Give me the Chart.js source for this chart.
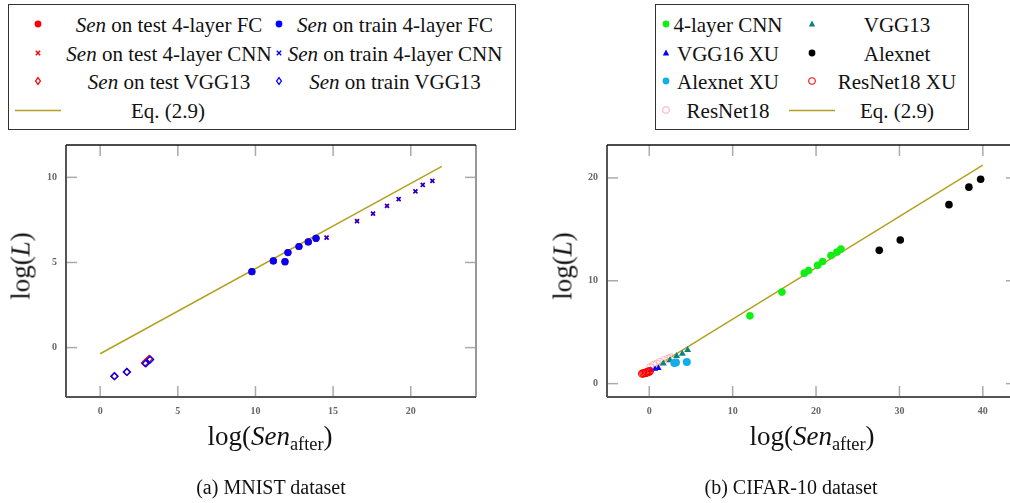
<!DOCTYPE html>
<html>
<head>
<meta charset="utf-8">
<script src="https://cdn.jsdelivr.net/npm/chart.js@4.4.0/dist/chart.umd.min.js"></script>
<style>
  html, body { margin: 0; padding: 0; background: #fff; }
  body { width: 1010px; height: 503px; overflow: hidden; position: relative; font-family: 'Liberation Serif', serif; color: #111; }
  .box { position: absolute; border: 1.5px solid #333; box-sizing: border-box; }
  .t { position: absolute; white-space: nowrap; transform: translate(-50%, -50%); font-size: 21px; line-height: 1; }
  .m { position: absolute; transform: translate(-50%, -50%); }
  .ttl { font-size: 27px; }
  .cap { font-size: 20px; }
  .sub { font-size: 0.68em; vertical-align: -0.28em; }
  canvas { position: absolute; }
</style>
</head>
<body>
<div class="box" style="left:8px;top:4px;width:508px;height:126px"></div>
<div class="box" style="left:655px;top:4px;width:314px;height:126px"></div>
<div id="legend"></div>

<canvas id="mnist" width="540" height="300" style="left:0;top:130px"></canvas>
<canvas id="cifar" width="480" height="300" style="left:560px;top:130px"></canvas>

<div class="t ttl" style="left:21px;top:266px;transform:translate(-50%,-50%) rotate(-90deg)">log(<i>L</i>)</div>
<div class="t ttl" style="left:270px;top:438px">log(<i>Sen</i><span class="sub">after</span>)</div>
<div class="t cap" style="left:271px;top:487px">(a) MNIST dataset</div>
<div class="t ttl" style="left:563px;top:266px;transform:translate(-50%,-50%) rotate(-90deg)">log(<i>L</i>)</div>
<div class="t ttl" style="left:812px;top:438px">log(<i>Sen</i><span class="sub">after</span>)</div>
<div class="t cap" style="left:791px;top:487px">(b) CIFAR-10 dataset</div>

<script>
// MNIST (a)
const mnistXTicks = [0, 5, 10, 15, 20]
const mnistYTicks = [0, 5, 10]
const fcTest = [[9.77, 4.46], [11.15, 5.09], [11.9, 5.05], [12.09, 5.58], [12.8, 5.94], [13.4, 6.21], [13.9, 6.42]]
const fcTrain = [[9.77, 4.46], [11.15, 5.09], [11.9, 5.05], [12.09, 5.58], [12.8, 5.94], [13.4, 6.21], [13.9, 6.42]]
const cnnTest = [[14.58, 6.46], [16.54, 7.43], [17.57, 7.87], [18.47, 8.32], [19.22, 8.72], [20.3, 9.18], [20.77, 9.56], [21.39, 9.79]]
const cnnTrain = [[14.58, 6.46], [16.54, 7.43], [17.57, 7.87], [18.47, 8.32], [19.22, 8.72], [20.3, 9.18], [20.77, 9.56], [21.39, 9.79]]
const vggTest = [[0.92, -1.68], [1.72, -1.43], [2.88, -0.9], [3.16, -0.66]]
const vggTrain = [[0.92, -1.68], [1.72, -1.43], [2.94, -0.93], [3.22, -0.7]]
const mnistEq = [[0, -0.36], [22, 10.64]]

// CIFAR-10 (b)
const cifarXTicks = [0, 10, 20, 30, 40]
const cifarYTicks = [0, 10, 20]
const cnn4 = [[12.07, 6.59], [15.91, 8.9], [18.59, 10.74], [19.1, 10.99], [20.19, 11.5], [20.79, 11.88], [21.79, 12.45], [22.5, 12.8], [22.99, 13.08]]
const vgg13 = [[1.68, 1.96], [2.48, 2.28], [3.28, 2.69], [3.96, 2.9], [4.6, 3.26]]
const vgg16xu = [[0.2, 1.3], [0.7, 1.42], [1.1, 1.5]]
const alexnet = [[27.58, 12.96], [30.1, 13.97], [35.94, 17.4], [38.33, 19.1], [39.74, 19.87]]
const alexnetXu = [[3.0, 2.0], [3.2, 2.05], [4.5, 2.1]]
const resnetXu = [[-0.85, 0.97], [-0.7, 1.0], [-0.55, 1.02], [-0.4, 1.06], [-0.25, 1.1], [-0.1, 1.15], [0.05, 1.2]]
const resnet = [[0.1, 1.6], [0.5, 1.82], [0.9, 1.95], [1.3, 2.12], [1.8, 2.3], [2.3, 2.45], [2.6, 2.55]]
const cifarEq = [[-0.9, 0.82], [40, 21.25]]

const olive = '#b4a01e'
const pts = arr => arr.map(p => ({x: p[0], y: p[1]}))

// inward ticks and the box round the plot
const frame = {
  id: 'frame',
  afterDraw(chart) {
    const {ctx, chartArea: a, scales: {x, y}} = chart
    const line = (x1, y1, x2, y2) => { ctx.beginPath(); ctx.moveTo(x1, y1); ctx.lineTo(x2, y2); ctx.stroke() }
    ctx.save()
    ctx.strokeStyle = '#aaa'
    ctx.lineWidth = 1.5
    x.ticks.forEach(t => {
      const px = x.getPixelForValue(t.value)
      line(px, a.bottom, px, a.bottom - 11)
      line(px, a.top, px, a.top + 11)
    })
    y.ticks.forEach(t => {
      const py = y.getPixelForValue(t.value)
      line(a.left, py, a.left + 11, py)
      line(a.right, py, a.right - 11, py)
    })
    ctx.lineWidth = 2
    ctx.strokeStyle = '#999'
    line(a.right, a.top, a.right, a.bottom)
    ctx.strokeStyle = '#555'
    line(a.left, a.bottom, a.right, a.bottom)
    line(a.left, a.top, a.left, a.bottom)
    ctx.strokeStyle = '#111'
    ctx.lineWidth = 1.5
    line(a.left, a.top, a.right, a.top)
    ctx.restore()
  }
}

const tickFont = {family: 'Liberation Serif', size: 10, weight: 'bold'}

function makeScales(xr, yr, xTicks, yTicks, yw, xh) {
  return {
    x: {
      type: 'linear', min: xr[0], max: xr[1],
      grid: {display: false, drawTicks: false}, border: {display: false},
      afterBuildTicks: s => { s.ticks = xTicks.map(v => ({value: v})) },
      afterFit: s => { s.height = xh },
      ticks: {font: tickFont, color: '#666', padding: 8, maxRotation: 0}
    },
    y: {
      type: 'linear', min: yr[0], max: yr[1],
      grid: {display: false, drawTicks: false}, border: {display: false},
      afterBuildTicks: s => { s.ticks = yTicks.map(v => ({value: v})) },
      afterFit: s => { s.width = yw },
      ticks: {font: tickFont, color: '#666', padding: 9}
    }
  }
}

const common = {
  responsive: false,
  animation: false,
  events: [],
  plugins: {legend: {display: false}, tooltip: {enabled: false}}
}

new Chart(document.getElementById('mnist'), {
  type: 'scatter',
  data: {
    datasets: [
      {label: 'Eq. (2.9)', type: 'line', data: pts(mnistEq), borderColor: olive, borderWidth: 1.5, pointRadius: 0, order: 10},
      {label: 'Sen on test 4-layer FC', data: pts(fcTest), pointStyle: 'circle', radius: 3.6, backgroundColor: '#f00', borderWidth: 0, order: 5},
      {label: 'Sen on train 4-layer FC', data: pts(fcTrain), pointStyle: 'circle', radius: 3.6, backgroundColor: '#00f', borderWidth: 0, order: 1},
      {label: 'Sen on test 4-layer CNN', data: pts(cnnTest), pointStyle: 'crossRot', radius: 2.8, borderColor: '#f00', borderWidth: 1.6, order: 5},
      {label: 'Sen on train 4-layer CNN', data: pts(cnnTrain), pointStyle: 'crossRot', radius: 2.6, borderColor: '#00f', borderWidth: 1.4, order: 1},
      {label: 'Sen on test VGG13', data: pts(vggTest), pointStyle: 'rectRot', radius: 3.4, backgroundColor: '#fff', borderColor: '#f00', borderWidth: 1.4, order: 5},
      {label: 'Sen on train VGG13', data: pts(vggTrain), pointStyle: 'rectRot', radius: 3.4, backgroundColor: 'rgba(255,255,255,0)', borderColor: '#00f', borderWidth: 1.4, order: 1}
    ]
  },
  options: Object.assign({}, common, {
    layout: {padding: {left: 0, top: 8, right: 64, bottom: 0}},
    scales: makeScales([-2.2, 24.2], [-2.9, 11.9], mnistXTicks, mnistYTicks, 66, 33)
  }),
  plugins: [frame]
})

new Chart(document.getElementById('cifar'), {
  type: 'scatter',
  data: {
    datasets: [
      {label: 'Eq. (2.9)', type: 'line', data: pts(cifarEq), borderColor: olive, borderWidth: 1.5, pointRadius: 0, order: 10},
      {label: 'ResNet18', data: pts(resnet), pointStyle: 'circle', radius: 3.6, backgroundColor: 'rgba(255,255,255,0)', borderColor: '#ffb0b8', borderWidth: 1, order: 8},
      {label: 'VGG13', data: pts(vgg13), pointStyle: 'triangle', radius: 4, backgroundColor: '#0f8080', borderWidth: 0, order: 6},
      {label: 'Alexnet XU', data: pts(alexnetXu), pointStyle: 'circle', radius: 4, backgroundColor: '#12aee8', borderWidth: 0, order: 5},
      {label: 'VGG16 XU', data: pts(vgg16xu), pointStyle: 'triangle', radius: 3.6, backgroundColor: '#00f', borderWidth: 0, order: 4},
      {label: 'ResNet18 XU', data: pts(resnetXu), pointStyle: 'circle', radius: 3.6, backgroundColor: 'rgba(255,255,255,0)', borderColor: '#f00', borderWidth: 1.2, order: 3},
      {label: '4-layer CNN', data: pts(cnn4), pointStyle: 'circle', radius: 3.8, backgroundColor: '#11ee11', borderWidth: 0, order: 2},
      {label: 'Alexnet', data: pts(alexnet), pointStyle: 'circle', radius: 3.8, backgroundColor: '#000', borderWidth: 0, order: 2}
    ]
  },
  options: Object.assign({}, common, {
    layout: {padding: {left: 0, top: 9, right: 23, bottom: 0}},
    scales: makeScales([-5.07, 44.1], [-1.3, 23.2], cifarXTicks, cifarYTicks, 47, 33)
  }),
  plugins: [frame]
})

// legends
const svg = inner => '<svg width="14" height="14" viewBox="-7 -7 14 14">' + inner + '</svg>'
const marks = {
  dot: c => svg('<circle r="3.4" fill="' + c + '"/>'),
  cross: c => svg('<path d="M-2.2,-2.2L2.2,2.2M-2.2,2.2L2.2,-2.2" stroke="' + c + '" stroke-width="1.4"/>'),
  diamond: c => svg('<path d="M0,-3.4L2.4,0L0,3.4L-2.4,0Z" fill="#fff" stroke="' + c + '" stroke-width="1.3"/>'),
  tri: c => svg('<path d="M0,-3.4L3.2,2.4L-3.2,2.4Z" fill="' + c + '"/>'),
  ring: c => svg('<circle r="3.3" fill="none" stroke="' + c + '" stroke-width="1.1"/>'),
  line: c => '<svg width="46" height="4"><line x1="0" y1="2" x2="46" y2="2" stroke="' + c + '" stroke-width="1.6"/></svg>'
}
const sen = '<i>Sen</i> '
const rowsY = [24, 52.5, 81, 109.5]
const legendItems = [
  // [marker, colour, markX, row, text, textX]
  ['dot', '#f00', 38, 0, sen + 'on test 4-layer FC', 169],
  ['dot', '#00f', 279, 0, sen + 'on train 4-layer FC', 395],
  ['cross', '#f00', 38, 1, sen + 'on test 4-layer CNN', 169],
  ['cross', '#00f', 279, 1, sen + 'on train 4-layer CNN', 395],
  ['diamond', '#f00', 38, 2, sen + 'on test VGG13', 169],
  ['diamond', '#00f', 279, 2, sen + 'on train VGG13', 395],
  ['line', olive, 38, 3, 'Eq. (2.9)', 168],
  ['dot', '#11ee11', 666, 0, '4-layer CNN', 728],
  ['tri', '#0f8080', 812, 0, 'VGG13', 897],
  ['tri', '#00f', 666, 1, 'VGG16 XU', 728],
  ['dot', '#000', 812, 1, 'Alexnet', 897],
  ['dot', '#12aee8', 666, 2, 'Alexnet XU', 728],
  ['ring', '#f00', 812, 2, 'ResNet18 XU', 897],
  ['ring', '#ffb0b8', 666, 3, 'ResNet18', 728],
  ['line', olive, 812, 3, 'Eq. (2.9)', 897]
]
document.getElementById('legend').innerHTML = legendItems.map(([m, c, mx, r, txt, tx]) =>
  '<div class="m" style="left:' + mx + 'px;top:' + rowsY[r] + 'px;line-height:0">' + marks[m](c) + '</div>' +
  '<div class="t" style="left:' + tx + 'px;top:' + (rowsY[r] + 1) + 'px">' + txt + '</div>'
).join('')
</script>
</body>
</html>
